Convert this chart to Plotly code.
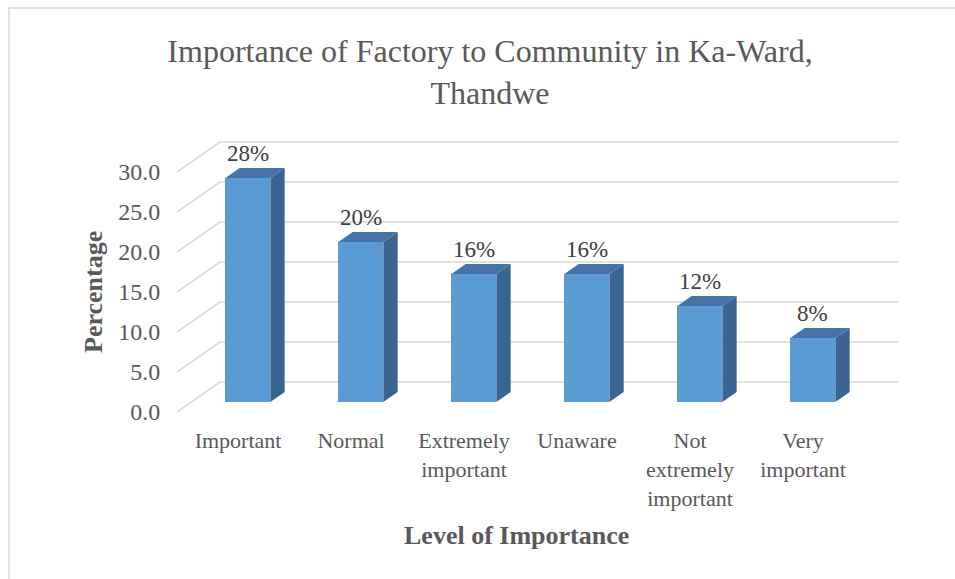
import plotly.graph_objects as go

# --- data ---------------------------------------------------------------
categories = ["Important", "Normal", "Extremely<br>important", "Unaware",
              "Not<br>extremely<br>important", "Very<br>important"]
values = [28, 20, 16, 16, 12, 8]
y_ticks = [0, 5, 10, 15, 20, 25, 30]
y_tick_text = ["0.0", "5.0", "10.0", "15.0", "20.0", "25.0", "30.0"]

# --- fake 3D geometry (pixel sizes turned into axis units) --------------
L, R, T, B = 177, 57, 132, 167
W, H = 955, 579
PX_X, PX_Y = 113.0, 8.0            # pixels per category / per value unit
WALL_DX, WALL_DY = 43 / PX_X, 30 / PX_Y
BAR_DX, BAR_DY = WALL_DX / 3, WALL_DY / 3
BAR_W = 45 / PX_X

FRONT = "#5b9bd5"
SIDE = "#3a6590"
TOP = "#4575a6"
GRID = "#d9d9d9"
TXT = "#595959"
FONT = "Liberation Serif, Times New Roman, serif"

pos = list(range(len(values)))
n = len(values)
plot_w = W - L - R
plot_h = H - T - B

traces = []

# front faces
traces.append(go.Bar(x=[p + BAR_DX for p in pos], y=values, base=BAR_DY,
                     width=BAR_W, marker=dict(color=FRONT, line=dict(width=0)),
                     hoverinfo="skip"))

# side and top faces
for p, v in zip(pos, values):
    xr = p + BAR_DX + BAR_W / 2
    xl = xr - BAR_W
    traces.append(go.Scatter(
        x=[xr, xr + BAR_DX, xr + BAR_DX, xr, xr],
        y=[BAR_DY, 2 * BAR_DY, 2 * BAR_DY + v, BAR_DY + v, BAR_DY],
        fill="toself", fillcolor=SIDE, mode="lines", line=dict(width=0),
        hoverinfo="skip"))
    traces.append(go.Scatter(
        x=[xl, xl + BAR_DX, xr + BAR_DX, xr, xl],
        y=[BAR_DY + v, 2 * BAR_DY + v, 2 * BAR_DY + v, BAR_DY + v, BAR_DY + v],
        fill="toself", fillcolor=TOP, mode="lines", line=dict(width=0),
        hoverinfo="skip"))

fig = go.Figure(data=traces)

# back wall gridlines plus the left wall diagonals (behind the bars)
shapes = []
for v in y_ticks:
    shapes.append(dict(type="line", xref="x", yref="y", layer="below",
                       x0=-0.5, y0=v, x1=-0.5 + WALL_DX, y1=v + WALL_DY,
                       line=dict(color=GRID, width=1.6)))
    shapes.append(dict(type="line", xref="x", yref="y", layer="below",
                       x0=-0.5 + WALL_DX, y0=v + WALL_DY,
                       x1=n - 0.5 + WALL_DX, y1=v + WALL_DY,
                       line=dict(color=GRID, width=1.6)))
# chart border
shapes.append(dict(type="rect", xref="paper", yref="paper", layer="below",
                   x0=(9 - L) / plot_w, x1=(965 - L) / plot_w,
                   y0=(412 - 590) / plot_h, y1=(412 - 8) / plot_h,
                   line=dict(color=GRID, width=1.5)))

annotations = []
for p, v in zip(pos, values):
    annotations.append(dict(x=p + BAR_DX, y=v + 2 * BAR_DY, xref="x", yref="y",
                            text=f"{v}%", showarrow=False, yanchor="bottom",
                            font=dict(family=FONT, size=23, color="#404040")))

annotations.append(dict(x=(n - 1) / 2, y=(412 - 535) / plot_h, xref="x", yref="paper",
                        xanchor="center", yanchor="middle",
                        text="<b>Level of Importance</b>", showarrow=False,
                        font=dict(family=FONT, size=26, color=TXT)))
annotations.append(dict(x=(93 - L) / plot_w, y=15, xref="paper", yref="y",
                        xanchor="center", yanchor="middle",
                        text="<b>Percentage</b>", showarrow=False, textangle=-90,
                        font=dict(family=FONT, size=26, color=TXT)))

fig.update_layout(
    width=W, height=H,
    margin=dict(l=L, r=R, t=T, b=B),
    paper_bgcolor="white", plot_bgcolor="white",
    showlegend=False, hovermode=False, bargap=0,
    title=dict(text="Importance of Factory to Community in Ka-Ward,<br>Thandwe",
               x=490 / W, xanchor="center", y=1 - 62 / H, yanchor="top",
               font=dict(family=FONT, size=32, color=TXT)),
    annotations=annotations,
    shapes=shapes,
)

fig.update_xaxes(range=[-0.5, n - 0.5 + WALL_DX], tickvals=[p + 0.04 for p in pos],
                 ticktext=categories, showgrid=False, zeroline=False, showline=False,
                 ticks="outside", ticklen=9, tickcolor="rgba(0,0,0,0)",
                 tickfont=dict(family=FONT, size=22, color=TXT))
fig.update_yaxes(range=[0, plot_h / PX_Y], tickvals=y_ticks, ticktext=y_tick_text,
                 showgrid=False, zeroline=False, showline=False,
                 ticks="outside", ticklen=11, tickcolor="rgba(0,0,0,0)",
                 tickfont=dict(family=FONT, size=24, color=TXT))

fig.write_html("out.html", config={"displayModeBar": False},
               post_script="document.body.style.margin='0';")
